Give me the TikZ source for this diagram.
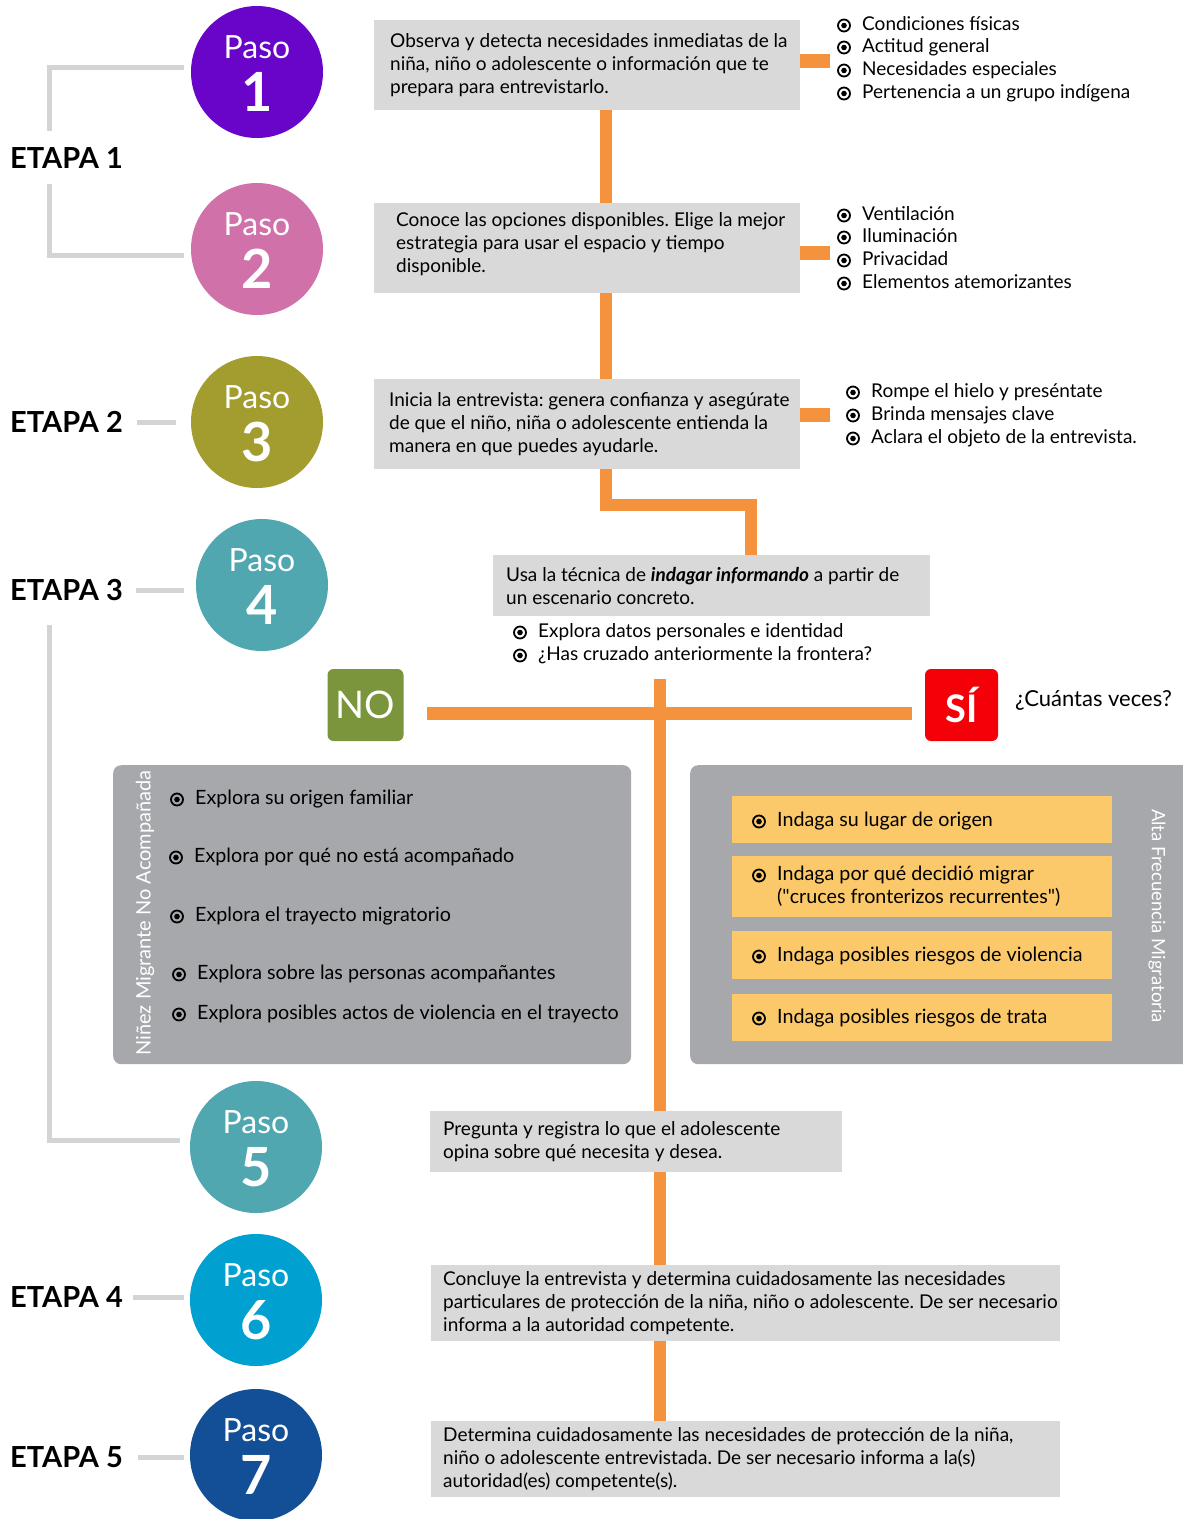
\documentclass[tikz,border=0pt]{standalone}
\usepackage{fontspec}
\setmainfont{Lato}
\frenchspacing
\definecolor{orng}{RGB}{245,146,62}
\definecolor{bgray}{RGB}{217,217,217}
\definecolor{lgray}{RGB}{211,212,214}
\definecolor{pgray}{RGB}{167,168,172}
\definecolor{ylw}{RGB}{251,201,106}
\definecolor{cpurple}{RGB}{105,5,201}
\definecolor{cpink}{RGB}{208,114,169}
\definecolor{colive}{RGB}{162,157,46}
\definecolor{cteal}{RGB}{81,167,176}
\definecolor{ccyan}{RGB}{0,160,208}
\definecolor{cnavy}{RGB}{19,79,150}
\definecolor{cgreen}{RGB}{122,149,59}
\definecolor{cred}{RGB}{244,0,9}
\newcommand\pasoc[5]{%
  \node[circ, fill=#4] (#1) at (#2,#3) {};
  \node[pasot] (#1a) at ([yshift=25pt]#1.center) {Paso};
  \node[pason] (#1b) at ([yshift=-20pt]#1.center) {#5};
}
\newcommand\bitem[5][]{%
  \node[itm,#1] (#2) at (#3,#4) {#5};
  \draw[line width=1.8pt] ([xshift=-18pt,yshift=-0.5pt]#2.west) circle[radius=6pt];
  \fill ([xshift=-18pt,yshift=-0.5pt]#2.west) circle[radius=2.8pt];
}
\begin{document}
\begin{tikzpicture}[x=1pt,y=-1pt,
 circ/.style={circle,minimum size=132pt,inner sep=0pt},
 pasot/.style={text=white,inner sep=0pt,font=\fontsize{32}{32}\selectfont},
 pason/.style={text=white,inner sep=0pt,font=\fontsize{54}{54}\selectfont\bfseries},
 etapa/.style={anchor=west,inner sep=0pt,font=\fontsize{29}{29}\selectfont\bfseries},
 gline/.style={draw=lgray,line width=5pt},
 oline/.style={draw=orng,line width=12pt,line join=miter},
 gbox/.style={fill=bgray,anchor=north west,inner sep=0pt},
 btext/.style={anchor=west,inner sep=0pt,align=left,font=\fontsize{19}{22.8}\selectfont},
 itm/.style={anchor=west,inner sep=0pt,text height=14pt,text depth=4pt,font=\fontsize{19}{22}\selectfont},
 pitm/.style={font=\fontsize{19.7}{22}\selectfont},
 panel/.style={fill=pgray,rounded corners=8pt,anchor=north west,inner sep=0pt},
 ybox/.style={fill=ylw,anchor=north west,inner sep=0pt,minimum width=380pt},
 yn/.style={rounded corners=6pt,text=white,inner sep=0pt,minimum width=76pt,minimum height=72pt},
 vtxt/.style={text=white,inner sep=0pt,font=\fontsize{20}{20}\selectfont},
]
\fill[white] (0,0) rectangle (1183,1519);
\useasboundingbox (0,0) rectangle (1183,1519);

% step circles
\pasoc{p1}{257}{72}{cpurple}{1}
\pasoc{p2}{257}{249}{cpink}{2}
\pasoc{p3}{257}{422}{colive}{3}
\pasoc{p4}{262}{585}{cteal}{4}
\pasoc{p5}{256}{1147}{cteal}{5}
\pasoc{p6}{256}{1300}{ccyan}{6}
\pasoc{p7}{256}{1455}{cnavy}{7}

% stage labels
\node[etapa] (e1) at (10,158) {ETAPA 1};
\node[etapa] (e2) at (10,422) {ETAPA 2};
\node[etapa] (e3) at (10,590) {ETAPA 3};
\node[etapa] (e4) at (10,1297) {ETAPA 4};
\node[etapa] (e5) at (10,1457) {ETAPA 5};

% gray stage connectors
\coordinate (e1t) at (49,131);
\coordinate (e1b) at (49,184);
\coordinate (e3b) at (49,625);
\draw[gline] ([xshift=-7pt,yshift=5pt]p1.west) -| (e1t);
\draw[gline] (e1b) |- ([xshift=-7pt,yshift=-6pt]p2.west);
\draw[gline] ([xshift=14pt]e2.east) -- ([xshift=-15pt]e2.east -| p3.west);
\draw[gline] ([xshift=13pt]e3.east) -- ([xshift=-12pt]e3.east -| p4.west);
\draw[gline] (e3b) |- ([xshift=-10pt,yshift=7pt]p5.west);
\draw[gline] ([xshift=10pt]e4.east) -- ([xshift=-6pt]e4.east -| p6.west);
\draw[gline] ([xshift=15pt]e5.east) -- ([xshift=-6pt]e5.east -| p7.west);

% boxes (shapes)
\node[gbox,minimum width=426pt,minimum height=90pt] (b1) at (374,20) {};
\node[gbox,minimum width=426pt,minimum height=90pt] (b2) at (374,203) {};
\node[gbox,minimum width=426pt,minimum height=90pt] (b3) at (374,379) {};
\node[gbox,minimum width=437pt,minimum height=61pt] (b4) at (493,555) {};
\node[gbox,minimum width=412pt,minimum height=61pt] (b5) at (430,1111) {};
\node[gbox,minimum width=629pt,minimum height=76pt] (b6) at (431,1265) {};
\node[gbox,minimum width=629pt,minimum height=76pt] (b7) at (431,1421) {};

% orange connectors
\coordinate (bend) at (751,505);
\coordinate (vtop) at (660,679);
\draw[oline] ([xshift=19pt]b1.south) -- ([xshift=19pt]b2.north);
\draw[oline] ([xshift=19pt]b2.south) -- ([xshift=19pt]b3.north);
\draw[oline] ([xshift=19pt]b3.south) |- (bend) -- (bend |- b4.north);
\draw[orng,line width=14pt] ([yshift=4pt]b1.east) -- ++(30,0);
\draw[orng,line width=14pt] ([yshift=-5pt]b2.east) -- ++(30,0);
\draw[orng,line width=14pt] ([yshift=9pt]b3.east) -- ++(30,0);
\draw[oline] (vtop) -- (vtop |- b5.north);
\draw[oline] (vtop |- b5.south) -- (vtop |- b6.north);
\draw[oline] (vtop |- b6.south) -- (vtop |- b7.north);

% box texts
\node[btext] (b1t) at ([xshift=16pt]b1.west) {Observa y detecta necesidades inmediatas de la\\niña, niño o adolescente o información que te\\prepara para entrevistarlo.};
\node[btext] (b2t) at ([xshift=22pt,yshift=4pt]b2.west) {Conoce las opciones disponibles. Elige la mejor\\estrategia para usar el espacio y tiempo\\disponible.};
\node[btext] (b3t) at ([xshift=15pt]b3.west) {Inicia la entrevista: genera confianza y asegúrate\\de que el niño, niña o adolescente entienda la\\manera en que puedes ayudarle.};
\node[btext] (b4t) at ([xshift=13pt]b4.west) {Usa la técnica de \textbf{\textit{indagar informando}} a partir de\\un escenario concreto.};
\node[btext] (b5t) at ([xshift=13pt]b5.west) {Pregunta y registra lo que el adolescente\\opina sobre qué necesita y desea.};
\node[btext] (b6t) at ([xshift=12pt]b6.west) {Concluye la entrevista y determina cuidadosamente las necesidades\\particulares de protección de la niña, niño o adolescente. De ser necesario\\informa a la autoridad competente.};
\node[btext] (b7t) at ([xshift=12pt]b7.west) {Determina cuidadosamente las necesidades de protección de la niña,\\niño o adolescente entrevistada. De ser necesario informa a la(s)\\autoridad(es) competente(s).};

% bullet lists
\bitem{l1a}{862}{25}{Condiciones físicas}
\bitem{l1b}{862}{47}{Actitud general}
\bitem{l1c}{862}{70}{Necesidades especiales}
\bitem{l1d}{862}{93}{Pertenencia a un grupo indígena}
\bitem{l2a}{862}{215}{Ventilación}
\bitem{l2b}{862}{237}{Iluminación}
\bitem{l2c}{862}{260}{Privacidad}
\bitem{l2d}{862}{283}{Elementos atemorizantes}
\bitem{l3a}{871}{392}{Rompe el hielo y preséntate}
\bitem{l3b}{871}{415}{Brinda mensajes clave}
\bitem{l3c}{871}{438}{Aclara el objeto de la entrevista.}
\bitem{l4a}{538}{632}{Explora datos personales e identidad}
\bitem{l4b}{538}{655}{¿Has cruzado anteriormente la frontera?}

% NO / SI
\node[yn,fill=cgreen,font=\fontsize{38}{38}\selectfont] (no) at (365.5,705) {NO};
\node[yn,fill=cred,minimum width=73pt,font=\fontsize{38}{38}\selectfont\bfseries] (si) at (961.5,705) {SÍ};
\node[anchor=west,inner sep=0pt,font=\fontsize{22}{22}\selectfont] (cv) at (1015,700) {¿Cuántas veces?};
\draw[orng,line width=13pt] ([xshift=23pt,yshift=-8pt]no.east) -- ([xshift=-13pt,yshift=-8pt]si.west);

% panels
\node[panel,minimum width=518pt,minimum height=299pt] (pl) at (113,765) {};
\node[panel,minimum width=520pt,minimum height=299pt] (pr) at (690,765) {};
\node[vtxt,rotate=90] (plt) at (145,913) {Niñez Migrante No Acompañada};
\node[vtxt,rotate=-90,font=\fontsize{18.5}{18.5}\selectfont] (prt) at (1157,916) {Alta Frecuencia Migratoria};

\bitem[pitm]{n1}{195}{799}{Explora su origen familiar}
\bitem[pitm]{n2}{194}{857}{Explora por qué no está acompañado}
\bitem[pitm]{n3}{195}{916}{Explora el trayecto migratorio}
\bitem[pitm]{n4}{197}{974}{Explora sobre las personas acompañantes}
\bitem[pitm]{n5}{197}{1014}{Explora posibles actos de violencia en el trayecto}

\node[ybox,minimum height=47pt] (y1) at (732,796) {};
\node[ybox,minimum height=61pt] (y2) at (732,856) {};
\node[ybox,minimum height=48pt] (y3) at (732,931) {};
\node[ybox,minimum height=47pt] (y4) at (732,994) {};
\bitem[pitm]{s1}{777}{821}{Indaga su lugar de origen}
\bitem[pitm]{s2}{777}{875}{Indaga por qué decidió migrar}
\node[itm,pitm] (s2b) at (777,898) {(\textquotedbl cruces fronterizos recurrentes\textquotedbl)};
\bitem[pitm]{s3}{777}{956}{Indaga posibles riesgos de violencia}
\bitem[pitm]{s4}{777}{1018}{Indaga posibles riesgos de trata}
\end{tikzpicture}
\end{document}
